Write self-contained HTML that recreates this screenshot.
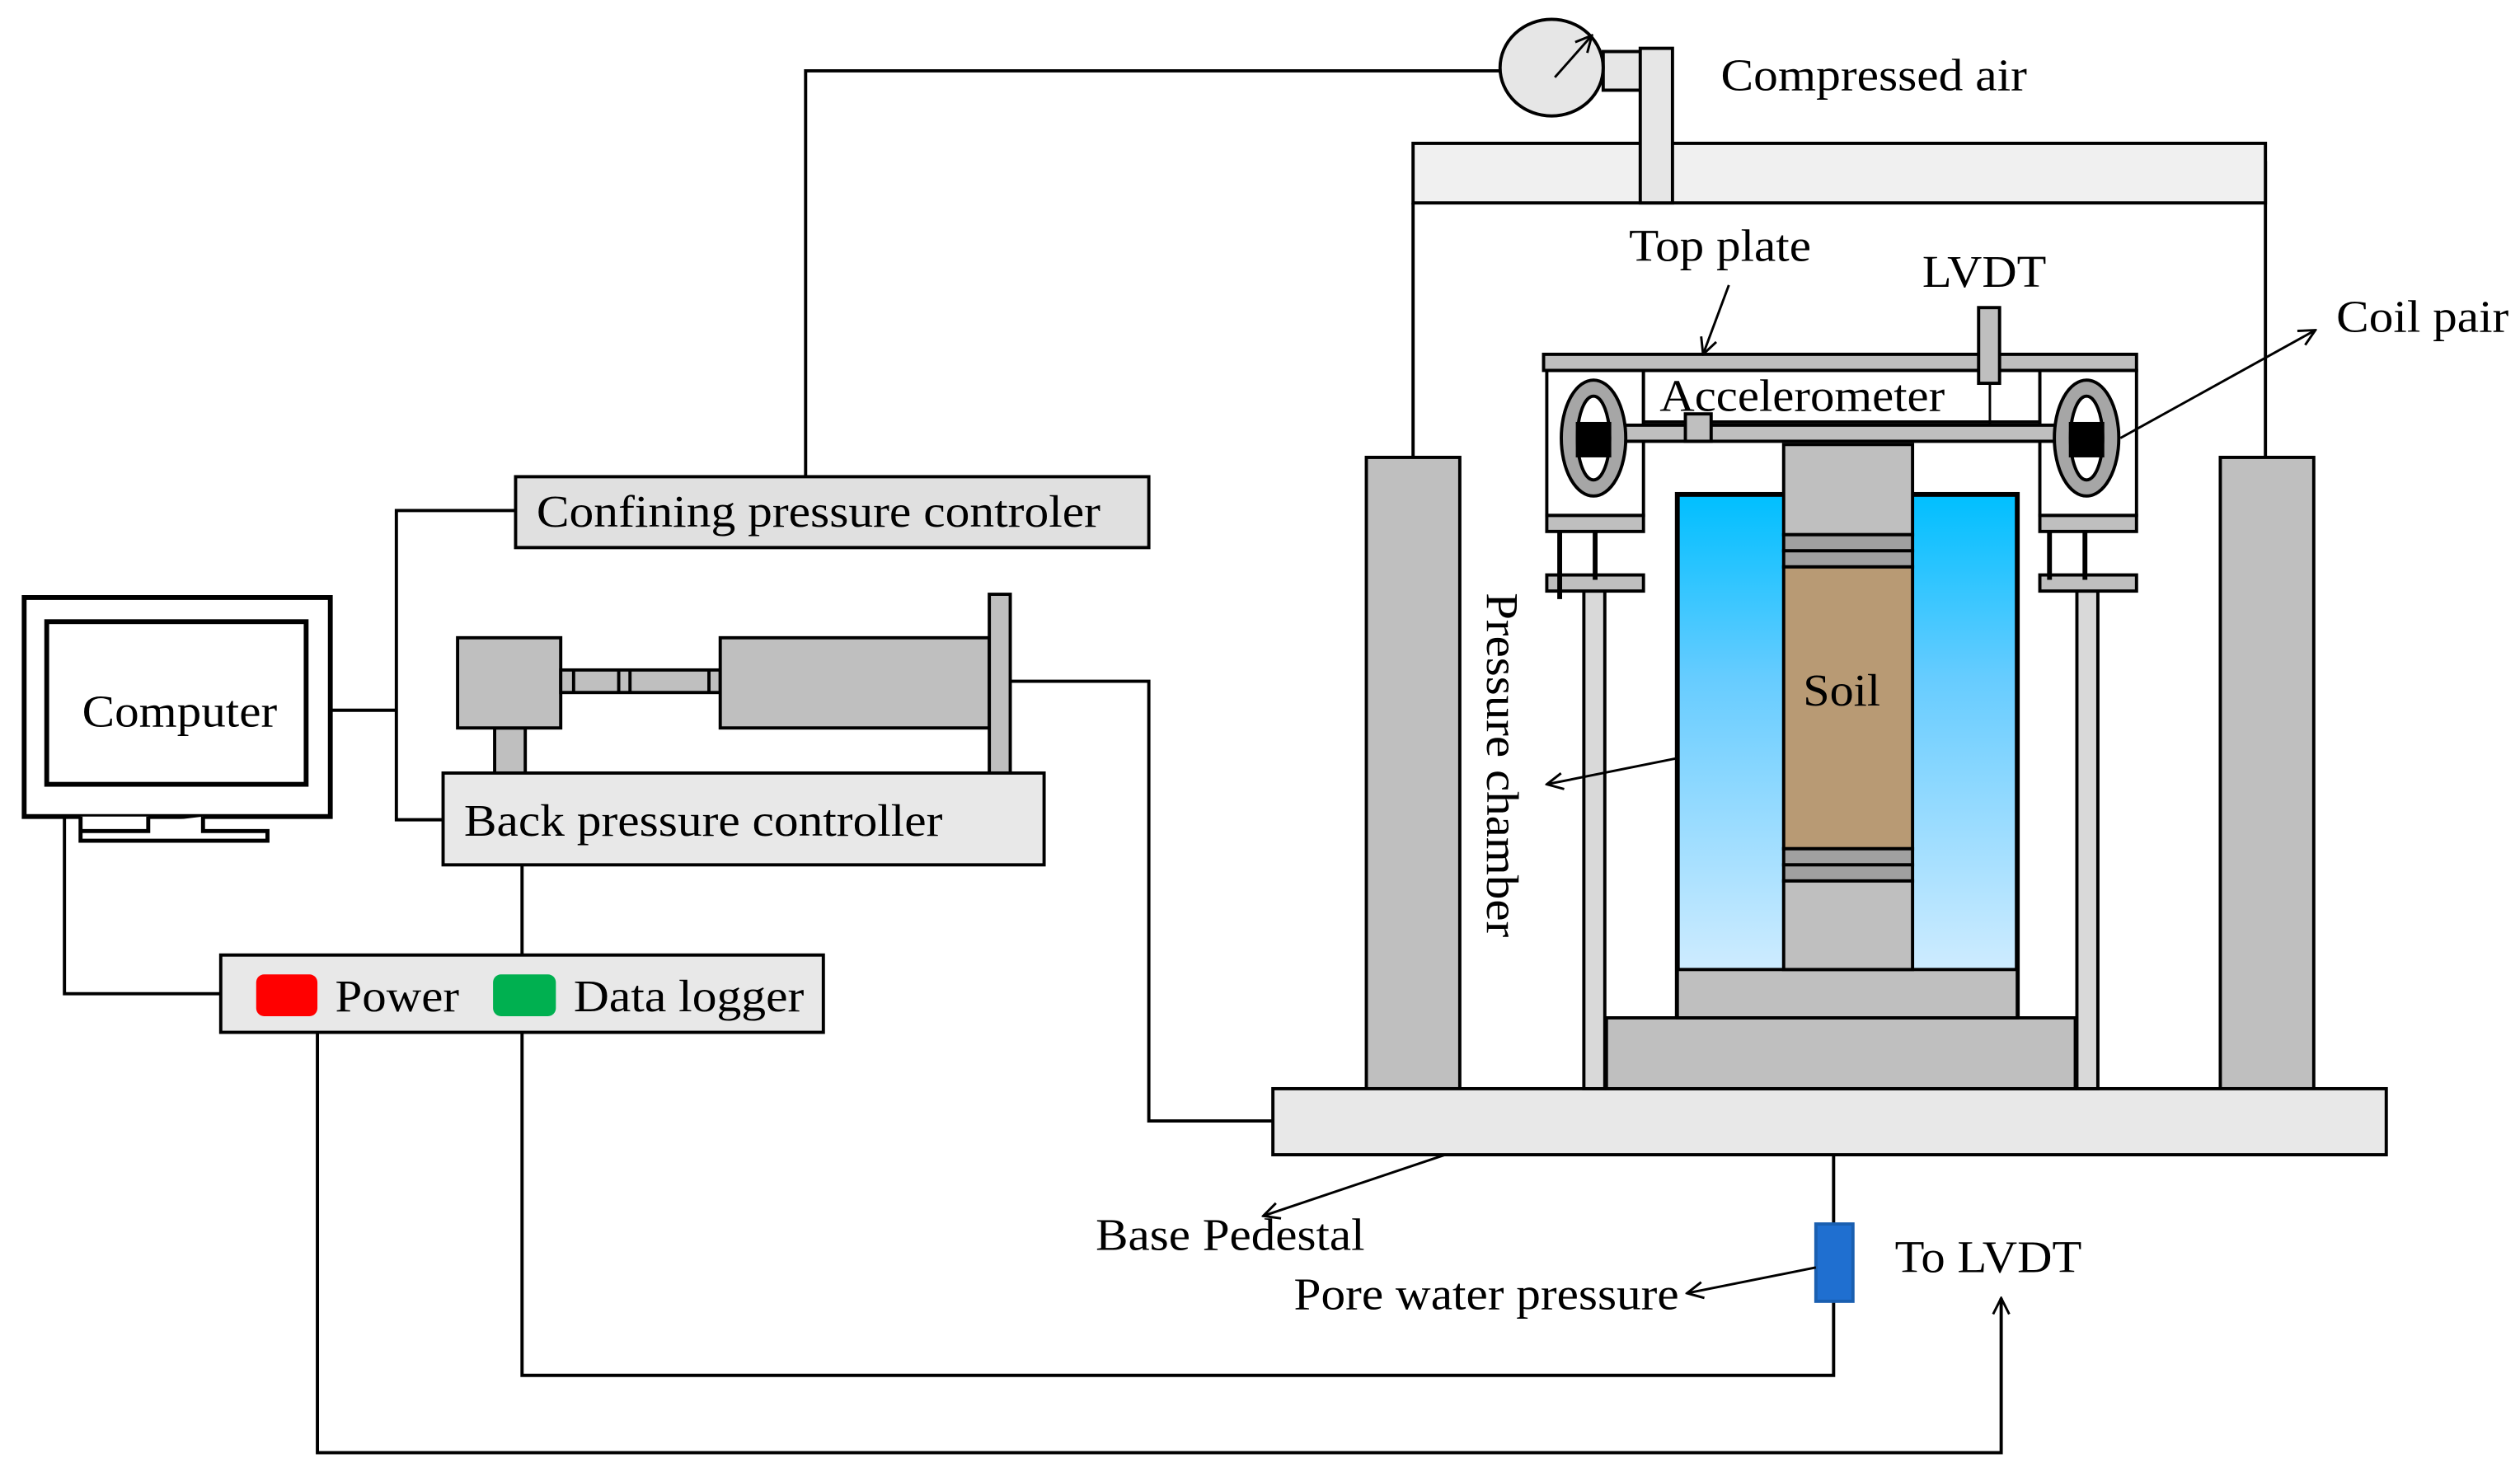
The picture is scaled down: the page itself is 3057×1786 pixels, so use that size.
<!DOCTYPE html>
<html><head><meta charset="utf-8"><style>html,body{margin:0;padding:0;background:#fff}svg{display:block}</style></head>
<body>
<svg width="3057" height="1786" viewBox="0 0 1564 914" preserveAspectRatio="none" xmlns="http://www.w3.org/2000/svg" font-family="Liberation Serif, serif" font-size="28">
<defs>
<linearGradient id="w" x1="0" y1="0" x2="0" y2="1"><stop offset="0" stop-color="#00bfff"/><stop offset="0.35" stop-color="#66ccff"/><stop offset="1" stop-color="#dff1ff"/></linearGradient>
<marker id="a" viewBox="0 0 12 12" refX="11" refY="6" markerWidth="12" markerHeight="12" markerUnits="userSpaceOnUse" orient="auto"><path d="M1,1 L11,6 L1,11" fill="none" stroke="#000" stroke-width="1.5"/></marker>
</defs>
<g stroke="#000" stroke-width="2" fill="none">
<!-- connectors -->
<polyline points="500,296 500,44 931,44"/>
<polyline points="205,441 246,441"/>
<polyline points="320,317 246,317 246,509 275,509"/>
<polyline points="627,423 713,423 713,696 790,696"/>
<line x1="324" y1="537" x2="324" y2="593"/>
<polyline points="137,617 40,617 40,507"/>
<polyline points="197,641 197,902 1242,902 1242,806" marker-end="url(#a)"/>
<polyline points="324,641 324,854 1138,854 1138,808"/>
<line x1="1138" y1="717" x2="1138" y2="760"/>
<line x1="877" y1="126" x2="877" y2="284"/>
<line x1="1406" y1="100" x2="1406" y2="284"/>
</g>
<g stroke="#000" stroke-width="2">
<!-- gauge & pipe -->
<rect x="995" y="32" width="24" height="24" fill="#e6e6e6"/>
<rect x="877" y="89" width="529" height="37" fill="#f0f0f0"/>
<rect x="1018" y="30" width="20" height="96" fill="#e6e6e6"/>
<ellipse cx="963" cy="42" rx="32" ry="30" fill="#e6e6e6"/>
<!-- columns, base -->
<rect x="848" y="284" width="58" height="392" fill="#bfbfbf"/>
<rect x="1378" y="284" width="58" height="392" fill="#bfbfbf"/>
<rect x="790" y="676" width="691" height="41" fill="#e8e8e8"/>
<!-- rods -->
<rect x="983" y="367" width="13" height="309" fill="#d9d9d9"/>
<rect x="1289" y="367" width="13" height="309" fill="#d9d9d9"/>
<rect x="960" y="320" width="60" height="10" fill="#bfbfbf"/>
<rect x="960" y="357" width="60" height="10" fill="#bfbfbf"/>
<rect x="1266" y="320" width="60" height="10" fill="#bfbfbf"/>
<rect x="1266" y="357" width="60" height="10" fill="#bfbfbf"/>
<line x1="968" y1="330" x2="968" y2="372" stroke-width="3"/>
<line x1="990" y1="330" x2="990" y2="360" stroke-width="3"/>
<line x1="1272" y1="330" x2="1272" y2="360" stroke-width="3"/>
<line x1="1294" y1="330" x2="1294" y2="360" stroke-width="3"/>
<!-- top assembly -->
<rect x="960" y="230" width="60" height="90" fill="#fff"/>
<rect x="1266" y="230" width="60" height="90" fill="#fff"/>
<rect x="1020" y="230" width="246" height="32" fill="#fff"/>
<rect x="958" y="220" width="368" height="10" fill="#bfbfbf"/>
<rect x="1228" y="191" width="13" height="47" fill="#bfbfbf"/>
<line x1="1235" y1="238" x2="1235" y2="266" stroke-width="1.5"/>
<rect x="1008" y="264" width="270" height="10" fill="#bfbfbf"/>
<rect x="1046" y="257" width="16" height="17" fill="#bfbfbf"/>
<ellipse cx="989" cy="272" rx="20" ry="36" fill="#a6a6a6"/>
<ellipse cx="989" cy="272" rx="10" ry="26" fill="#fff"/>
<rect x="979" y="263" width="20" height="20" fill="#000"/>
<ellipse cx="1295" cy="272" rx="20" ry="36" fill="#a6a6a6"/>
<ellipse cx="1295" cy="272" rx="10" ry="26" fill="#fff"/>
<rect x="1285" y="263" width="20" height="20" fill="#000"/>
<!-- chamber -->
<rect x="1041" y="307" width="211" height="325" fill="url(#w)" stroke-width="3"/>
<rect x="997" y="632" width="291" height="44" fill="#bfbfbf"/>
<rect x="1041" y="602" width="211" height="30" fill="#bfbfbf"/>
<rect x="1107" y="276" width="80" height="56" fill="#bfbfbf"/>
<rect x="1107" y="332" width="80" height="10" fill="#a0a0a0"/>
<rect x="1107" y="342" width="80" height="10" fill="#a0a0a0"/>
<rect x="1107" y="352" width="80" height="175" fill="#b89a74"/>
<rect x="1107" y="527" width="80" height="10" fill="#a0a0a0"/>
<rect x="1107" y="537" width="80" height="10" fill="#a0a0a0"/>
<rect x="1107" y="547" width="80" height="55" fill="#bfbfbf"/>
<!-- left devices -->
<rect x="15" y="371" width="190" height="136" fill="#fff" stroke-width="3"/>
<rect x="29" y="386" width="161" height="101" fill="#fff" stroke-width="3"/>
<path d="M50,507 v9 h42 v-9 M126,507 v9 h40 v6 h-116 v-6" fill="#fff" stroke-width="2.5"/>
<rect x="320" y="296" width="393" height="44" fill="#e0e0e0"/>
<rect x="307" y="452" width="19" height="28" fill="#bfbfbf"/>
<rect x="284" y="396" width="64" height="56" fill="#bfbfbf"/>
<rect x="348" y="416" width="99" height="14" fill="#bfbfbf"/>
<line x1="356" y1="416" x2="356" y2="430"/><line x1="384" y1="416" x2="384" y2="430"/><line x1="391" y1="416" x2="391" y2="430"/><line x1="440" y1="416" x2="440" y2="430"/>
<rect x="447" y="396" width="167" height="56" fill="#bfbfbf"/>
<rect x="614" y="369" width="13" height="111" fill="#bfbfbf"/>
<rect x="275" y="480" width="373" height="57" fill="#e8e8e8"/>
<rect x="137" y="593" width="374" height="48" fill="#e8e8e8"/>
<rect x="159" y="605" width="38" height="26" rx="5" fill="#ff0000" stroke="none"/>
<rect x="306" y="605" width="39" height="26" rx="5" fill="#00b050" stroke="none"/>
<rect x="1127" y="760" width="23" height="48" fill="#1f6fd0" stroke="#1a5fb0"/>
</g>
<g stroke="#000" stroke-width="1.5" fill="none" marker-end="url(#a)">
<line x1="965" y1="48" x2="988" y2="22"/>
<line x1="1073" y1="177" x2="1057" y2="220"/>
<line x1="1316" y1="272" x2="1437" y2="205"/>
<line x1="1040" y1="471" x2="960" y2="487"/>
<line x1="897" y1="717" x2="784" y2="755"/>
<line x1="1127" y1="787" x2="1047" y2="803"/>
</g>
<g fill="#000">
<text x="1068" y="56" textLength="190" lengthAdjust="spacingAndGlyphs">Compressed air</text>
<text x="1011" y="162" textLength="113" lengthAdjust="spacingAndGlyphs">Top plate</text>
<text x="1193" y="178" textLength="77" lengthAdjust="spacingAndGlyphs">LVDT</text>
<text x="1450" y="206" textLength="107" lengthAdjust="spacingAndGlyphs">Coil pair</text>
<text x="1030" y="255" textLength="177" lengthAdjust="spacingAndGlyphs">Accelerometer</text>
<text x="1119" y="438" textLength="48" lengthAdjust="spacingAndGlyphs">Soil</text>
<text transform="translate(923,368) rotate(90)" textLength="214" lengthAdjust="spacingAndGlyphs">Pressure chamber</text>
<text x="333" y="327" textLength="350" lengthAdjust="spacingAndGlyphs">Confining pressure controler</text>
<text x="51" y="451" textLength="121" lengthAdjust="spacingAndGlyphs">Computer</text>
<text x="288" y="519" textLength="297" lengthAdjust="spacingAndGlyphs">Back pressure controller</text>
<text x="208" y="628" textLength="77" lengthAdjust="spacingAndGlyphs">Power</text>
<text x="356" y="628" textLength="143" lengthAdjust="spacingAndGlyphs">Data logger</text>
<text x="680" y="776" textLength="167" lengthAdjust="spacingAndGlyphs">Base Pedestal</text>
<text x="803" y="813" textLength="239" lengthAdjust="spacingAndGlyphs">Pore water pressure</text>
<text x="1176" y="790" textLength="116" lengthAdjust="spacingAndGlyphs">To LVDT</text>
</g>
</svg>
</body></html>
